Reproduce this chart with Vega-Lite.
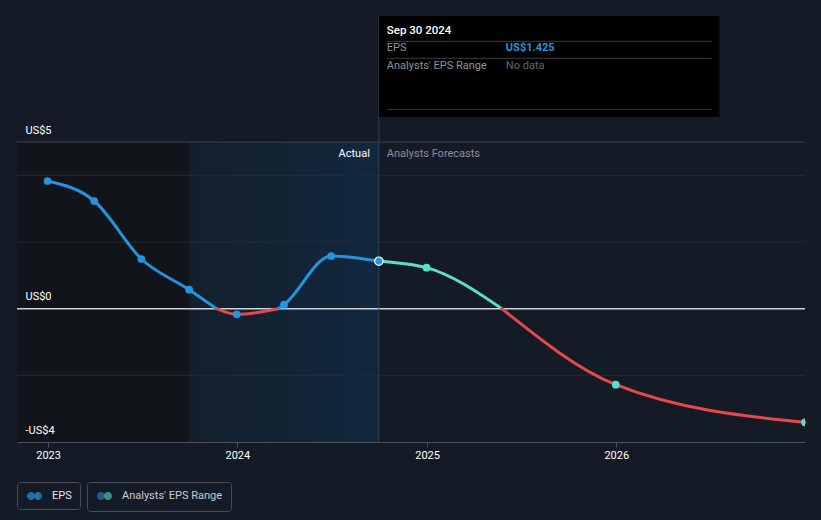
{
  "$schema": "https://vega.github.io/schema/vega-lite/v6.json",
  "width": 788,
  "height": 300,
  "autosize": {"type": "none"},
  "padding": {"left": 17, "top": 142, "right": 16, "bottom": 78},
  "background": "#151b26",
  "config": {
    "view": {"stroke": null},
    "font": "Roboto",
    "axis": {"title": null}
  },
  "datasets": {
    "bands": [
      {"start": "2022-11-02", "end": "2023-09-30", "band": "past"},
      {"start": "2023-09-30", "end": "2024-09-30", "band": "recent"}
    ],
    "grid": [{"v": 4}, {"v": 2}, {"v": -2}],
    "eps_lines": [
      {"date": "2022-12-31", "v": 3.83, "seg": "a1"},
      {"date": "2023-03-31", "v": 3.23, "seg": "a1"},
      {"date": "2023-06-30", "v": 1.49, "seg": "a1"},
      {"date": "2023-09-30", "v": 0.57, "seg": "a1"},
      {"date": "2023-11-22", "v": 0, "seg": "a1"},
      {"date": "2023-11-22", "v": 0, "seg": "a2"},
      {"date": "2023-12-31", "v": -0.17, "seg": "a2"},
      {"date": "2024-03-20", "v": 0, "seg": "a2"},
      {"date": "2024-03-20", "v": 0, "seg": "a3"},
      {"date": "2024-03-31", "v": 0.12, "seg": "a3"},
      {"date": "2024-06-30", "v": 1.58, "seg": "a3"},
      {"date": "2024-09-30", "v": 1.425, "seg": "a3"},
      {"date": "2024-09-30", "v": 1.425, "seg": "f1"},
      {"date": "2024-12-31", "v": 1.23, "seg": "f1"},
      {"date": "2025-05-25", "v": 0, "seg": "f1"},
      {"date": "2025-05-25", "v": 0, "seg": "f2"},
      {"date": "2025-12-31", "v": -2.28, "seg": "f2"},
      {"date": "2026-12-31", "v": -3.41, "seg": "f2"}
    ],
    "points": [
      {"date": "2022-12-31", "v": 3.83, "kind": "actual"},
      {"date": "2023-03-31", "v": 3.23, "kind": "actual"},
      {"date": "2023-06-30", "v": 1.49, "kind": "actual"},
      {"date": "2023-09-30", "v": 0.57, "kind": "actual"},
      {"date": "2023-12-31", "v": -0.17, "kind": "actual"},
      {"date": "2024-03-31", "v": 0.12, "kind": "actual"},
      {"date": "2024-06-30", "v": 1.58, "kind": "actual"},
      {"date": "2024-09-30", "v": 1.425, "kind": "current"},
      {"date": "2024-12-31", "v": 1.23, "kind": "forecast"},
      {"date": "2025-12-31", "v": -2.28, "kind": "forecast"},
      {"date": "2026-12-31", "v": -3.41, "kind": "forecast"}
    ]
  },
  "layer": [
    {
      "data": {"name": "eps_lines"},
      "mark": {"type": "line", "opacity": 0},
      "encoding": {
        "x": {"field": "date", "type": "temporal", "scale": {"type": "utc", "domain": [{"year": 2022, "month": 11, "date": 2, "utc": true}, {"year": 2026, "month": 12, "date": 31, "utc": true}], "nice": false},
          "axis": {"values": [{"year": 2023, "month": 1, "date": 1, "utc": true}, {"year": 2024, "month": 1, "date": 1, "utc": true}, {"year": 2025, "month": 1, "date": 1, "utc": true}, {"year": 2026, "month": 1, "date": 1, "utc": true}],
            "format": "%Y", "grid": false, "domain": true, "domainColor": "#4b515c", "ticks": true, "tickColor": "#4b515c", "tickSize": 5, "labelColor": "#ffffff", "labelFontSize": 11, "labelPadding": 2, "labelFont": "Roboto", "zindex": 1, "title": null}},
        "y": {"field": "v", "type": "quantitative", "scale": {"domain": [-4, 5], "nice": false, "zero": false},
          "axis": {"values": [5, 0, -4], "grid": false, "domain": false, "ticks": false, "tickSize": 0, "labelAlign": "left", "labelBaseline": "bottom", "labelPadding": -8, "labelOffset": -7, "labelColor": "#ffffff", "labelFontSize": 11, "labelFont": "Roboto", "labelExpr": "datum.value < 0 ? '-US$' + abs(datum.value) : 'US$' + datum.value", "zindex": 1, "title": null}},
        "detail": {"field": "seg", "type": "nominal"}
      }
    },
    {
      "data": {"name": "bands"},
      "transform": [{"filter": "datum.band == 'past'"}],
      "mark": {"type": "rect", "fill": "#111419"},
      "encoding": {
        "x": {"field": "start", "type": "temporal"},
        "x2": {"field": "end"}
      }
    },
    {
      "data": {"name": "bands"},
      "transform": [{"filter": "datum.band == 'recent'"}],
      "mark": {"type": "rect", "fill": {"gradient": "linear", "x1": 0, "x2": 1, "y1": 0, "y2": 0, "stops": [{"offset": 0, "color": "#141f2c"}, {"offset": 1, "color": "#11283f"}]}},
      "encoding": {
        "x": {"field": "start", "type": "temporal"},
        "x2": {"field": "end"}
      }
    },
    {
      "data": {"name": "grid"},
      "mark": {"type": "rule", "color": "#252b35", "strokeWidth": 1},
      "encoding": {
        "y": {"field": "v", "type": "quantitative"}
      }
    },
    {
      "data": {"values": [{"v": 5}]},
      "mark": {"type": "rule", "color": "#3d434d", "strokeWidth": 1},
      "encoding": {
        "y": {"field": "v", "type": "quantitative"}
      }
    },
    {
      "data": {"values": [{"v": 0}]},
      "mark": {"type": "rule", "color": "#cfd1d5", "strokeWidth": 1.5},
      "encoding": {
        "y": {"field": "v", "type": "quantitative"}
      }
    },
    {
      "data": {"values": [{"date": "2024-09-30", "v": -4, "v2": 8.78}]},
      "mark": {"type": "rule", "color": "#2c435b", "strokeWidth": 1},
      "encoding": {
        "x": {"field": "date", "type": "temporal"},
        "y": {"field": "v", "type": "quantitative"},
        "y2": {"field": "v2"}
      }
    },
    {
      "data": {"name": "eps_lines"},
      "mark": {"type": "line", "interpolate": "monotone", "strokeWidth": 3, "strokeCap": "round"},
      "encoding": {
        "x": {"field": "date", "type": "temporal"},
        "y": {"field": "v", "type": "quantitative"},
        "color": {"field": "seg", "type": "nominal", "scale": {"domain": ["a1", "a2", "a3", "f1", "f2"], "range": ["#2394df", "#e5484d", "#2394df", "#58e0c6", "#e5484d"]}, "legend": null}
      }
    },
    {
      "data": {"name": "points"},
      "transform": [{"filter": "datum.kind == 'actual'"}],
      "mark": {"type": "point", "filled": true, "shape": "circle", "size": 60, "opacity": 1, "color": "#2394df", "clip": true},
      "encoding": {
        "x": {"field": "date", "type": "temporal"},
        "y": {"field": "v", "type": "quantitative"}
      }
    },
    {
      "data": {"name": "points"},
      "transform": [{"filter": "datum.kind == 'forecast'"}],
      "mark": {"type": "point", "filled": true, "shape": "circle", "size": 60, "opacity": 1, "color": "#58e0c6", "clip": true},
      "encoding": {
        "x": {"field": "date", "type": "temporal"},
        "y": {"field": "v", "type": "quantitative"}
      }
    },
    {
      "data": {"name": "points"},
      "transform": [{"filter": "datum.kind == 'current'"}],
      "mark": {"type": "point", "filled": true, "shape": "circle", "size": 70, "opacity": 1, "color": "#2394df", "stroke": "#ffffff", "strokeWidth": 1.2},
      "encoding": {
        "x": {"field": "date", "type": "temporal"},
        "y": {"field": "v", "type": "quantitative"}
      }
    },
    {
      "data": {"values": [{"date": "2024-09-30", "v": 4.64, "t": "Actual"}]},
      "mark": {"type": "text", "align": "right", "baseline": "middle", "dx": -9, "fontSize": 11, "color": "#ffffff", "font": "Roboto"},
      "encoding": {
        "x": {"field": "date", "type": "temporal"},
        "y": {"field": "v", "type": "quantitative"},
        "text": {"field": "t"}
      }
    },
    {
      "data": {"values": [{"date": "2024-09-30", "v": 4.64, "t": "Analysts Forecasts"}]},
      "mark": {"type": "text", "align": "left", "baseline": "middle", "dx": 8, "fontSize": 11, "color": "#8b9099", "font": "Roboto"},
      "encoding": {
        "x": {"field": "date", "type": "temporal"},
        "y": {"field": "v", "type": "quantitative"},
        "text": {"field": "t"}
      }
    },
    {
      "data": {"values": [{"date": "2024-09-30", "end": "2026-07-19", "v": 8.78, "v2": 5.75}]},
      "mark": {"type": "rect", "fill": "#000000"},
      "encoding": {
        "x": {"field": "date", "type": "temporal"},
        "x2": {"field": "end"},
        "y": {"field": "v", "type": "quantitative"},
        "y2": {"field": "v2"}
      }
    },
    {
      "data": {"values": [{"date": "2024-10-16", "end": "2026-07-04", "v": 8.02}, {"date": "2024-10-16", "end": "2026-07-04", "v": 7.51}, {"date": "2024-10-16", "end": "2026-07-04", "v": 5.98}]},
      "mark": {"type": "rule", "color": "#3a3c40", "strokeWidth": 1},
      "encoding": {
        "x": {"field": "date", "type": "temporal"},
        "x2": {"field": "end"},
        "y": {"field": "v", "type": "quantitative"}
      }
    },
    {
      "data": {"values": [{"date": "2024-09-30", "v": 8.33, "t": "Sep 30 2024"}]},
      "mark": {"type": "text", "align": "left", "baseline": "middle", "dx": 8, "fontSize": 11.5, "fontWeight": 500, "color": "#ffffff", "font": "Roboto"},
      "encoding": {
        "x": {"field": "date", "type": "temporal"},
        "y": {"field": "v", "type": "quantitative"},
        "text": {"field": "t"}
      }
    },
    {
      "data": {"values": [{"date": "2024-09-30", "v": 7.82, "t": "EPS"}, {"date": "2024-09-30", "v": 7.28, "t": "Analysts' EPS Range"}]},
      "mark": {"type": "text", "align": "left", "baseline": "middle", "dx": 8, "fontSize": 11, "color": "#8f949b", "font": "Roboto"},
      "encoding": {
        "x": {"field": "date", "type": "temporal"},
        "y": {"field": "v", "type": "quantitative"},
        "text": {"field": "t"}
      }
    },
    {
      "data": {"values": [{"date": "2024-09-30", "v": 7.82, "t": "US$1.425"}]},
      "mark": {"type": "text", "align": "left", "baseline": "middle", "dx": 127, "fontSize": 11, "fontWeight": "bold", "color": "#2394df", "font": "Roboto"},
      "encoding": {
        "x": {"field": "date", "type": "temporal"},
        "y": {"field": "v", "type": "quantitative"},
        "text": {"field": "t"}
      }
    },
    {
      "data": {"values": [{"date": "2024-09-30", "v": 7.28, "t": "No data"}]},
      "mark": {"type": "text", "align": "left", "baseline": "middle", "dx": 127, "fontSize": 11, "color": "#63676e", "font": "Roboto"},
      "encoding": {
        "x": {"field": "date", "type": "temporal"},
        "y": {"field": "v", "type": "quantitative"},
        "text": {"field": "t"}
      }
    },
    {
      "data": {"values": []},
      "mark": {"type": "point", "filled": true},
      "encoding": {
        "fill": {"field": "k1", "type": "nominal", "scale": {"domain": ["EPS"], "range": ["#2394df"]},
          "legend": {"title": null, "orient": "none", "legendX": 0, "legendY": 340, "symbolType": "M -0.8 0 A 0.8 0.8 0 1 0 0.8 0 A 0.8 0.8 0 1 0 -0.8 0 Z M 0.6 0 A 0.8 0.8 0 1 0 2.2 0 A 0.8 0.8 0 1 0 0.6 0 Z", "symbolSize": 100, "labelOffset": 15, "padding": 8, "strokeColor": "#464b54", "cornerRadius": 3, "labelFont": "Roboto", "labelFontSize": 11, "labelColor": "#e2e4e8", "labelExpr": "datum.label + '  '",
            "encode": {"symbols": {"update": {"fill": {"value": {"gradient": "linear", "x1": 0, "x2": 1, "y1": 0, "y2": 0, "stops": [{"offset": 0, "color": "#2394df"}, {"offset": 0.467, "color": "#2394df"}, {"offset": 0.467, "color": "#58e0c6"}, {"offset": 1, "color": "#58e0c6"}]}}, "stroke": {"value": "transparent"}, "strokeWidth": {"value": 0}, "opacity": {"value": 1}}}}}}
      }
    },
    {
      "data": {"values": []},
      "mark": {"type": "point", "filled": true, "opacity": 1, "fill": {"gradient": "linear", "x1": 0, "x2": 1, "y1": 0, "y2": 0, "stops": [{"offset": 0, "color": "#1f5f8b"}, {"offset": 0.467, "color": "#1f5f8b"}, {"offset": 0.467, "color": "#3d8f88"}, {"offset": 1, "color": "#3d8f88"}]}},
      "encoding": {
        "shape": {"field": "k2", "type": "nominal", "scale": {"domain": ["Analysts' EPS Range"], "range": ["M -0.8 0 A 0.8 0.8 0 1 0 0.8 0 A 0.8 0.8 0 1 0 -0.8 0 Z M 0.6 0 A 0.8 0.8 0 1 0 2.2 0 A 0.8 0.8 0 1 0 0.6 0 Z"]},
          "legend": {"title": null, "orient": "none", "legendX": 70, "legendY": 340, "symbolSize": 100, "labelOffset": 15, "padding": 8, "strokeColor": "#464b54", "cornerRadius": 3, "labelFont": "Roboto", "labelFontSize": 11, "labelColor": "#c9ccd2", "labelExpr": "datum.label + '  '",
            "encode": {"symbols": {"update": {"fill": {"value": {"gradient": "linear", "x1": 0, "x2": 1, "y1": 0, "y2": 0, "stops": [{"offset": 0, "color": "#1f5f8b"}, {"offset": 0.467, "color": "#1f5f8b"}, {"offset": 0.467, "color": "#3d8f88"}, {"offset": 1, "color": "#3d8f88"}]}}, "stroke": {"value": "transparent"}, "strokeWidth": {"value": 0}, "opacity": {"value": 1}}}}}}
      }
    }
  ]
}
